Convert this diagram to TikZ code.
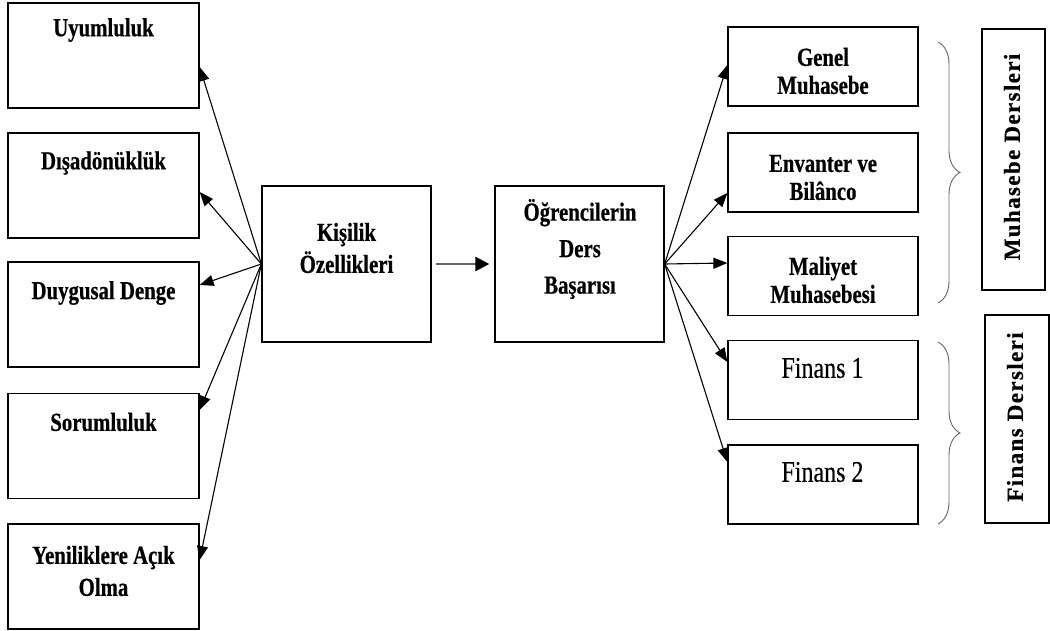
\documentclass[tikz,border=0pt]{standalone}
\usepackage{fontspec}
\setmainfont{Liberation Serif}[FakeStretch=0.8, BoldFeatures={FakeBold=0.6}]
\newfontfamily\finfont{Liberation Serif}[FakeStretch=0.8, FakeBold=0.4]
\newfontfamily\dikfont{Liberation Serif}[LetterSpace=6, BoldFeatures={FakeBold=0.6}]
\usetikzlibrary{arrows.meta,decorations.pathreplacing}

\tikzset{
  kutu/.style 2 args={draw, line width=1.3pt, inner sep=0pt,
    minimum width=#1, minimum height=#2},
  yazi/.style={font=\fontsize{26}{32}\selectfont\bfseries, align=center, inner sep=0pt},
  sagyazi/.style={font=\fontsize{26}{28}\selectfont\bfseries, align=center, inner sep=0pt},
  finyazi/.style={font=\finfont\fontsize{30}{32}\selectfont, inner sep=0pt},
  dikyazi/.style={font=\dikfont\fontsize{23}{25}\selectfont\bfseries, rotate=90, inner sep=0pt},
  ok/.style={-{Triangle[length=14pt,width=11pt]}, line width=1.1pt},
  parantez/.style={decorate, decoration={brace, amplitude=22pt}, draw=black!60, line width=0.9pt}
}

\begin{document}
\begin{tikzpicture}[x=1pt,y=-1pt]
\useasboundingbox (0,0) rectangle (1050,631);
% sol kutular
\node[kutu={191pt}{105pt}] (uyum) at (103.5,55.5) {};
\node[kutu={191pt}{105pt}] (disa) at (103.5,185.5) {};
\node[kutu={191pt}{105pt}] (duygu) at (103.5,314.5) {};
\node[kutu={191pt}{105pt}] (sorum) at (103.5,446) {};
\node[kutu={191pt}{105pt}] (yeni) at (103.5,576.5) {};
\node[yazi] (uyumy) at (103.5,30) {Uyumluluk};
\node[yazi] (disay) at (103.5,163) {Dışadönüklük};
\node[yazi] (duyguy) at (103.5,293) {Duygusal Denge};
\node[yazi] (sorumy) at (103.5,422) {Sorumluluk};
\node[yazi] (yeniy) at (103.5,571) {Yeniliklere Açık\\Olma};
% orta kutular
\node[kutu={169pt}{156pt}] (kisilik) at (346.5,264) {};
\node[kutu={169pt}{156pt}] (ogrenci) at (579.5,264) {};
\node[yazi] (kisiliky) at (346.5,248) {Kişilik\\Özellikleri};
\node[yazi, font=\fontsize{26}{36.5}\selectfont\bfseries] (ogrenciy) at (580,249)
  {Öğrencilerin\\Ders\\Başarısı};
% sag kutular
\node[kutu={190pt}{79pt}] (genel) at (823,66.5) {};
\node[kutu={190pt}{79pt}] (envanter) at (823,172.5) {};
\node[kutu={190pt}{79pt}] (maliyet) at (823,276) {};
\node[kutu={190pt}{79pt}] (finans1) at (823,380) {};
\node[kutu={190pt}{79pt}] (finans2) at (823,484.5) {};
\node[sagyazi] (genely) at (823,71) {Genel\\Muhasebe};
\node[sagyazi] (envantery) at (823,177.5) {Envanter ve\\Bilânco};
\node[sagyazi] (maliyety) at (823,280) {Maliyet\\Muhasebesi};
\node[finyazi] (finans1y) at (822.5,368) {Finans 1};
\node[finyazi] (finans2y) at (822.5,472) {Finans 2};
% dikey kutular
\node[kutu={63pt}{261pt}] (muhders) at (1013.5,159.5) {};
\node[kutu={64pt}{208pt}] (finders) at (1017,419) {};
\node[dikyazi] (muhdersy) at (1012,157) {Muhasebe Dersleri};
\node[dikyazi] (findersy) at (1015,417) {Finans Dersleri};
% oklar
\foreach \n/\s in {uyum/-11.5,disa/-6.5,duygu/29.5,sorum/36,yeni/16.5}
  \draw[ok] (kisilik.west) -- ([yshift=\s pt]\n.east);
\foreach \n/\s in {genel/1.5,envanter/-20.5,maliyet/13,finans1/18,finans2/22.5}
  \draw[ok] (ogrenci.east) -- ([yshift=\s pt]\n.west);
\draw[-{Triangle[length=14pt,width=14pt,color=black]}, draw=black!60, line width=2.6pt,
  shorten <=4pt, shorten >=5pt] (kisilik) -- (ogrenci);
% parantezler
\draw[parantez] (938,42) -- (938,303);
\draw[parantez] (938,342) -- (938,524);
\end{tikzpicture}
\end{document}
